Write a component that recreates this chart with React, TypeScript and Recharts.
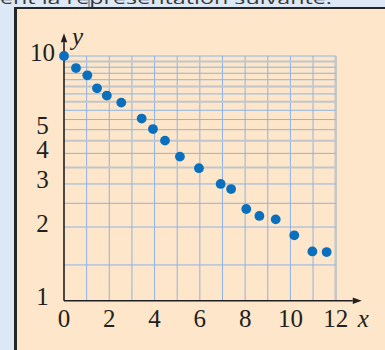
import React from "react";
import { ScatterChart, Scatter, XAxis, YAxis, ReferenceLine } from "recharts";

// readings taken off the semi-log figure
const xValues = [0, 0.53, 1.03, 1.46, 1.89, 2.53, 3.43, 3.93, 4.46, 5.12, 5.96, 6.92, 7.38, 8.05, 8.63, 9.35, 10.17, 10.97, 11.6];
const yValues = [10, 8.93, 8.34, 7.38, 6.89, 6.45, 5.55, 5.03, 4.51, 3.88, 3.48, 3.0, 2.86, 2.37, 2.22, 2.15, 1.85, 1.59, 1.58];

const xTicks = [0, 2, 4, 6, 8, 10, 12];
const yTicks = [1, 2, 3, 4, 5, 10];
const xGrid = [1, 2, 3, 4, 5, 6, 7, 8, 9, 10, 11];
const yGrid = [1.4, 2, 2.5, 3, 3.5, 4, 4.5, 5, 5.5, 6, 6.5, 7, 7.5, 8, 8.5, 9, 9.5, 10];
const yGridGrey = [3.5, 4.5, 6.5, 7.5, 9.5];

const data = xValues.map((x, i) => ({ x, y: yValues[i] }));

const INK = "#231f20";
const SERIF = "'Liberation Serif', 'DejaVu Serif', serif";
const GRID = "#8db4e6";

function makeArrow(name: string, dx: number, dy: number) {
  return (props: any) => {
    const { x1, y1, x2, y2 } = props;
    const len = Math.hypot(x2 - x1, y2 - y1) || 1;
    const ux = (x2 - x1) / len;
    const uy = (y2 - y1) / len;
    const bx = x2 - ux * 9;
    const by = y2 - uy * 9;
    const pts = `${x2},${y2} ${bx - uy * 3.2},${by + ux * 3.2} ${bx + uy * 3.2},${by - ux * 3.2}`;
    return (
      <g>
        <line x1={x1} y1={y1} x2={bx} y2={by} stroke={INK} strokeWidth={1.6} />
        <polygon points={pts} fill={INK} />
        <text x={x2 + dx} y={y2 + dy} fontFamily={SERIF} fontStyle="italic" fontSize={25} fill={INK}>
          {name}
        </text>
      </g>
    );
  };
}

const XTick = ({ x, y, payload }: any) => (
  <text x={x} y={y + 26} textAnchor="middle" fontFamily={SERIF} fontSize={25} fill={INK}>
    {payload.value}
  </text>
);

const YTick = ({ x, y, payload }: any) => (
  <text x={x - 21.5} y={y + 4.5} textAnchor="middle" fontFamily={SERIF} fontSize={25} fill={INK}>
    {payload.value}
  </text>
);

export default function App() {
  return (
    <div style={{ position: "absolute", left: 0, top: 0, width: 385, height: 350, overflow: "hidden", background: "#dce8f6" }}>
      <svg width={385} height={12} style={{ position: "absolute", left: 0, top: 0 }}>
        <text x={0} y={4} fontFamily="'Open Sans', sans-serif" fontSize={17} fill="#3a3a3a" textLength={332} lengthAdjust="spacingAndGlyphs">
          ent la représentation suivante.
        </text>
        <line x1={89} y1={0} x2={89} y2={8} stroke="#555" strokeWidth={1} />
      </svg>
      <div
        style={{
          position: "absolute",
          left: 14,
          top: 7,
          width: 380,
          height: 350,
          background: "#fde6c9",
          borderLeft: "3px solid #262626",
          borderTop: "2px solid #262626",
        }}
      />
      <div style={{ position: "absolute", left: 0, top: 0 }}>
        <ScatterChart width={385} height={350} margin={{ top: 56, right: 49.3, bottom: 19.3, left: 24 }}>
          <XAxis
            type="number"
            dataKey="x"
            domain={[0, 12]}
            ticks={xTicks}
            axisLine={false}
            tickLine={false}
            tickSize={0}
            tickMargin={0}
            height={30}
            tick={<XTick />}
            interval={0}
          />
          <YAxis
            type="number"
            dataKey="y"
            scale="log"
            domain={[1, 10]}
            ticks={yTicks}
            axisLine={false}
            tickLine={false}
            tickSize={0}
            tickMargin={0}
            width={40}
            tick={<YTick />}
            interval={0}
          />
          {xGrid.map((v) => (
            <ReferenceLine key={"vx" + v} x={v} stroke={GRID} strokeWidth={1} />
          ))}
          <ReferenceLine x={12} stroke="#c4c6cb" strokeWidth={2.5} />
          {yGrid.map((v) => (
            <ReferenceLine
              key={"hy" + v}
              y={v}
              stroke={yGridGrey.includes(v) ? "#c2c5cb" : GRID}
              strokeWidth={yGridGrey.includes(v) ? 2 : 1}
            />
          ))}
          <ReferenceLine
            segment={[{ x: 0, y: 1 }, { x: 13.15, y: 1 }]}
            ifOverflow="visible"
            shape={makeArrow("x", -4, 26)}
          />
          <ReferenceLine
            segment={[{ x: 0, y: 1 }, { x: 0, y: 12.38 }]}
            ifOverflow="visible"
            shape={makeArrow("y", 8, 12)}
          />
          <Scatter
            data={data}
            fill="#0a6fbd"
            isAnimationActive={false}
            shape={(p: any) => <circle cx={p.cx} cy={p.cy} r={4.9} fill="#0a6fbd" />}
          />
        </ScatterChart>
      </div>
    </div>
  );
}
